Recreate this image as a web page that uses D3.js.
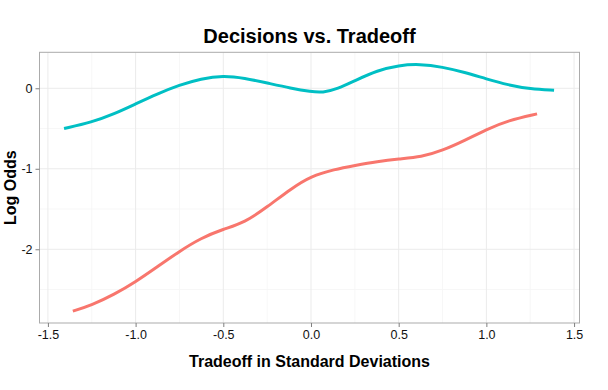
<!DOCTYPE html>
<html><head><meta charset="utf-8">
<script src="https://cdn.jsdelivr.net/npm/d3@7"></script>
<style>body{margin:0;background:#fff}svg{display:block}text{font-family:"Liberation Sans",Arial,sans-serif}</style>
</head><body>
<script>
const title = "Decisions vs. Tradeoff";
const xTitle = "Tradeoff in Standard Deviations";
const yTitle = "Log Odds";
const xTicks = [-1.5, -1.0, -0.5, 0.0, 0.5, 1.0, 1.5];
const yTicks = [0, -1, -2];
const tealX = [-1.408, -1.25, -1.122, -1.0, -0.877, -0.75, -0.627, -0.5, -0.379, -0.25, -0.114, 0.0, 0.066, 0.152, 0.25, 0.379, 0.5, 0.62, 0.75, 0.876, 1.0, 1.124, 1.25, 1.386];
const tealY = [-0.50, -0.421, -0.318, -0.194, -0.070, 0.041, 0.12, 0.158, 0.127, 0.066, 0.0, -0.043, -0.055, -0.008, 0.095, 0.222, 0.285, 0.302, 0.265, 0.198, 0.116, 0.041, -0.008, -0.025];
const redX = [-1.358, -1.25, -1.122, -1.0, -0.877, -0.75, -0.627, -0.5, -0.379, -0.25, -0.114, 0.0, 0.133, 0.25, 0.379, 0.5, 0.629, 0.75, 0.876, 1.0, 1.124, 1.289];
const redY = [-2.769, -2.694, -2.562, -2.405, -2.219, -2.025, -1.860, -1.75, -1.669, -1.475, -1.248, -1.091, -1.008, -0.959, -0.909, -0.878, -0.855, -0.773, -0.649, -0.512, -0.40, -0.318];

const W = 608, H = 390;
const svg = d3.select("body").append("svg").attr("width", W).attr("height", H);
const L = 39.5, R = 579.5, T = 52.3, B = 323;
const x = d3.scaleLinear().domain([-1.548, 1.531]).range([L, R]);
const y = d3.scaleLinear().domain([0.447, -2.916]).range([T, B]);

const xMinor = d3.range(-1.25, 1.5, 0.5);
const yMinor = [-0.5, -1.5, -2.5];
const g = svg.append("g");
g.selectAll(".xm").data(xMinor).join("line").attr("x1", d => x(d)).attr("x2", d => x(d)).attr("y1", T).attr("y2", B).attr("stroke", "#f5f5f5").attr("stroke-width", 0.8);
g.selectAll(".ym").data(yMinor).join("line").attr("y1", d => y(d)).attr("y2", d => y(d)).attr("x1", L).attr("x2", R).attr("stroke", "#f5f5f5").attr("stroke-width", 0.8);
g.selectAll(".xM").data(xTicks).join("line").attr("x1", d => x(d)).attr("x2", d => x(d)).attr("y1", T).attr("y2", B).attr("stroke", "#ebebeb").attr("stroke-width", 1);
g.selectAll(".yM").data(yTicks).join("line").attr("y1", d => y(d)).attr("y2", d => y(d)).attr("x1", L).attr("x2", R).attr("stroke", "#ebebeb").attr("stroke-width", 1);

const line = d3.line().x(d => x(d[0])).y(d => y(d[1])).curve(d3.curveBasis);
svg.append("path").datum(redX.map((v, i) => [v, redY[i]])).attr("d", line).attr("fill", "none").attr("stroke", "#F8766D").attr("stroke-width", 3);
svg.append("path").datum(tealX.map((v, i) => [v, tealY[i]])).attr("d", line).attr("fill", "none").attr("stroke", "#00BFC4").attr("stroke-width", 3);

svg.append("rect").attr("x", L).attr("y", T).attr("width", R - L).attr("height", B - T).attr("fill", "none").attr("stroke", "#ababab").attr("stroke-width", 1);

const hy = s => s.replace("\u2212", "-");
const xAxis = svg.append("g").attr("transform", `translate(0,${B})`)
  .call(d3.axisBottom(x).tickValues(xTicks).tickFormat(d => hy(d3.format(".1f")(d))).tickSize(4).tickPadding(3));
const yAxis = svg.append("g").attr("transform", `translate(${L},0)`)
  .call(d3.axisLeft(y).tickValues(yTicks).tickFormat(d => hy(d3.format("d")(d))).tickSize(4).tickPadding(3));
[xAxis, yAxis].forEach(a => {
  a.select(".domain").remove();
  a.selectAll(".tick line").attr("stroke", "#7f7f7f");
  a.selectAll(".tick text").attr("fill", "#111").attr("font-size", 12.5).attr("font-family", "Liberation Sans, Arial, sans-serif");
});

svg.append("text").attr("x", (L + R) / 2).attr("y", 43).attr("text-anchor", "middle").attr("font-weight", "bold").attr("font-size", 20).text(title);
svg.append("text").attr("x", (L + R) / 2).attr("y", 367).attr("text-anchor", "middle").attr("font-weight", "bold").attr("font-size", 16).text(xTitle);
svg.append("text").attr("transform", `translate(16,${(T + B) / 2}) rotate(-90)`).attr("text-anchor", "middle").attr("font-weight", "bold").attr("font-size", 16).text(yTitle);
</script>
</body></html>
